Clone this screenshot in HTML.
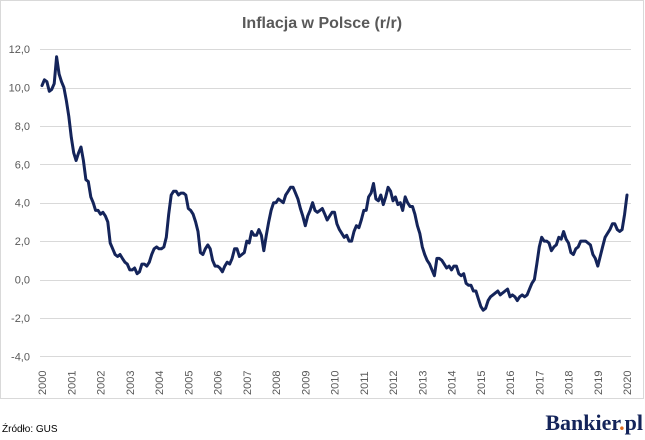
<!DOCTYPE html>
<html><head><meta charset="utf-8"><style>
html,body{margin:0;padding:0;background:#fff;width:645px;height:440px;overflow:hidden}
svg{display:block}
</style></head><body>
<svg id="s" width="645" height="440" xmlns="http://www.w3.org/2000/svg" font-family="Liberation Sans, sans-serif">
<rect x="0.5" y="0.5" width="643" height="398" fill="#fff" stroke="#d9d9d9"/>
<text x="322" y="28" text-anchor="middle" font-size="16" font-weight="bold" fill="#595959">Inflacja w Polsce (r/r)</text>
<g id="grid" stroke="#d9d9d9" stroke-width="1"></g>
<g id="yl" font-size="11" fill="#595959" text-anchor="end"></g>
<g id="xl" font-size="11" fill="#595959"></g>
<path id="line" fill="none" stroke="#14245a" stroke-width="3" stroke-linejoin="round" stroke-linecap="round"/>
<text x="2" y="432" font-size="10" fill="#000">Źródło: GUS</text>
<text x="643" y="430" text-anchor="end" font-family="Liberation Serif, serif" font-size="22" font-weight="bold" fill="#14245a">Bankier<tspan fill="#e06b1f">.</tspan>pl</text>
</svg>
<script>
var NS="http://www.w3.org/2000/svg";
function Y(v){return 279.5-v*19.2;}
function X(t){return 42+(t-2000)*29.25;}
var g=document.getElementById('grid'),yl=document.getElementById('yl'),xl=document.getElementById('xl');
for(var v=-4;v<=12;v+=2){var l=document.createElementNS(NS,'line');l.setAttribute('x1',40);l.setAttribute('x2',631);l.setAttribute('y1',Math.round(Y(v))+0.5);l.setAttribute('y2',Math.round(Y(v))+0.5);g.appendChild(l);
var t=document.createElementNS(NS,'text');t.setAttribute('x',30);t.setAttribute('y',Y(v)+4);t.textContent=v.toFixed(1).replace('.',',');yl.appendChild(t);}
for(var y=2000;y<=2020;y++){var t=document.createElementNS(NS,'text');var x=X(y)+4;t.setAttribute('transform','translate('+x+',395) rotate(-90)');t.textContent=y;xl.appendChild(t);}
var d=[10.1,10.4,10.3,9.8,9.9,10.2,11.6,10.7,10.3,10.0,9.3,8.5,
7.4,6.6,6.2,6.6,6.9,6.2,5.2,5.1,4.3,4.0,3.6,3.6,
3.4,3.5,3.3,3.0,1.9,1.6,1.3,1.2,1.3,1.1,0.9,0.8,
0.5,0.5,0.6,0.3,0.4,0.8,0.8,0.7,0.9,1.3,1.6,1.7,
1.6,1.6,1.7,2.2,3.4,4.4,4.6,4.6,4.4,4.5,4.5,4.4,
3.7,3.6,3.4,3.0,2.5,1.4,1.3,1.6,1.8,1.6,1.0,0.7,
0.7,0.6,0.4,0.7,0.9,0.8,1.1,1.6,1.6,1.2,1.3,1.4,
2.0,1.9,2.5,2.3,2.3,2.6,2.3,1.5,2.3,3.0,3.6,4.0,
4.0,4.2,4.1,4.0,4.4,4.6,4.8,4.8,4.5,4.2,3.7,3.3,
2.8,3.3,3.6,4.0,3.6,3.5,3.6,3.7,3.4,3.1,3.3,3.5,
3.5,2.9,2.6,2.4,2.2,2.3,2.0,2.0,2.5,2.8,2.7,3.1,
3.6,3.6,4.3,4.5,5.0,4.2,4.1,4.4,3.9,4.3,4.8,4.6,
4.1,4.3,3.9,4.0,3.6,4.3,4.0,3.8,3.8,3.4,2.8,2.4,
1.7,1.3,1.0,0.8,0.5,0.2,1.1,1.1,1.0,0.8,0.6,0.7,
0.5,0.7,0.7,0.3,0.2,0.3,-0.2,-0.3,-0.3,-0.6,-0.6,-1.0,
-1.4,-1.6,-1.5,-1.1,-0.9,-0.8,-0.7,-0.6,-0.8,-0.7,-0.6,-0.5,
-0.9,-0.8,-0.9,-1.1,-0.9,-0.8,-0.9,-0.8,-0.5,-0.2,0.0,0.8,
1.7,2.2,2.0,2.0,1.9,1.5,1.7,1.8,2.2,2.1,2.5,2.1,
1.9,1.4,1.3,1.6,1.7,2.0,2.0,2.0,1.9,1.8,1.3,1.1,
0.7,1.2,1.7,2.2,2.4,2.6,2.9,2.9,2.6,2.5,2.6,3.4,4.4];
var p='';for(var i=0;i<d.length;i++){p+=(i?'L':'M')+X(2000+i/12).toFixed(1)+','+Y(d[i]).toFixed(1);}
document.getElementById('line').setAttribute('d',p);
</script>
</body></html>
